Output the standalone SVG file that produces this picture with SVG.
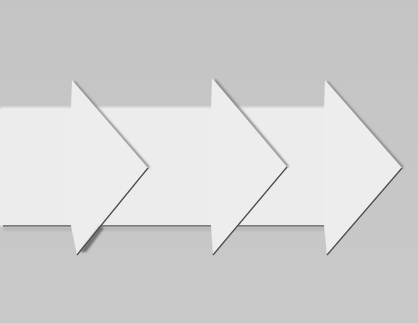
<svg xmlns="http://www.w3.org/2000/svg" width="418" height="323" viewBox="0 0 418 323">
<defs>
<filter id="soft" x="-20%" y="-20%" width="140%" height="140%"><feGaussianBlur stdDeviation="1.2"/></filter>
<linearGradient id="bg" x1="0" y1="0" x2="0" y2="1">
<stop offset="0" stop-color="#c4c4c4"/>
<stop offset="1" stop-color="#c9c9c9"/>
</linearGradient>
</defs>
<style>
.arrow{fill:#ededed}
.upper{stroke:#7e7e7e;stroke-width:2.4;fill:none;filter:url(#soft)}
.lower{stroke:#4a4a4a;stroke-width:1.2;fill:none}
</style>
<rect width="418" height="323" fill="url(#bg)"/>
<g id="band">
<rect x="0" y="107" width="330" height="119" fill="#ebebeb" filter="url(#soft)"/>
<rect x="0" y="109" width="330" height="116" fill="#ececec"/>
<line x1="3" y1="226" x2="330" y2="226" stroke="#5e5e5e" stroke-width="1.3"/>
<rect x="3" y="227" width="327" height="4" fill="#b8b8b8" filter="url(#soft)"/>
</g>
<g id="arrow1">
<line class="upper" x1="74" y1="82" x2="149" y2="168"/>
<polygon class="arrow" points="72,80 148,168 77,255 71,226 71,108"/>
<path d="M100,226 L80,252 L86,252 L104,228 Z" fill="#6e6e6e" filter="url(#soft)"/>
<line class="lower" x1="148" y1="168" x2="77" y2="255"/>
</g>
<g id="arrow2">
<line class="upper" x1="215" y1="80" x2="288" y2="167"/>
<polygon class="arrow" points="212,78 287,167 213,255 211,226 211,108"/>
<line class="lower" x1="287" y1="167" x2="213" y2="255"/>
</g>
<g id="arrow3">
<line class="upper" x1="327" y1="82" x2="403" y2="168"/>
<polygon class="arrow" points="325,80 402,168 327,255 324,226 324,108"/>
<line class="lower" x1="402" y1="168" x2="327" y2="255"/>
</g>
</svg>
